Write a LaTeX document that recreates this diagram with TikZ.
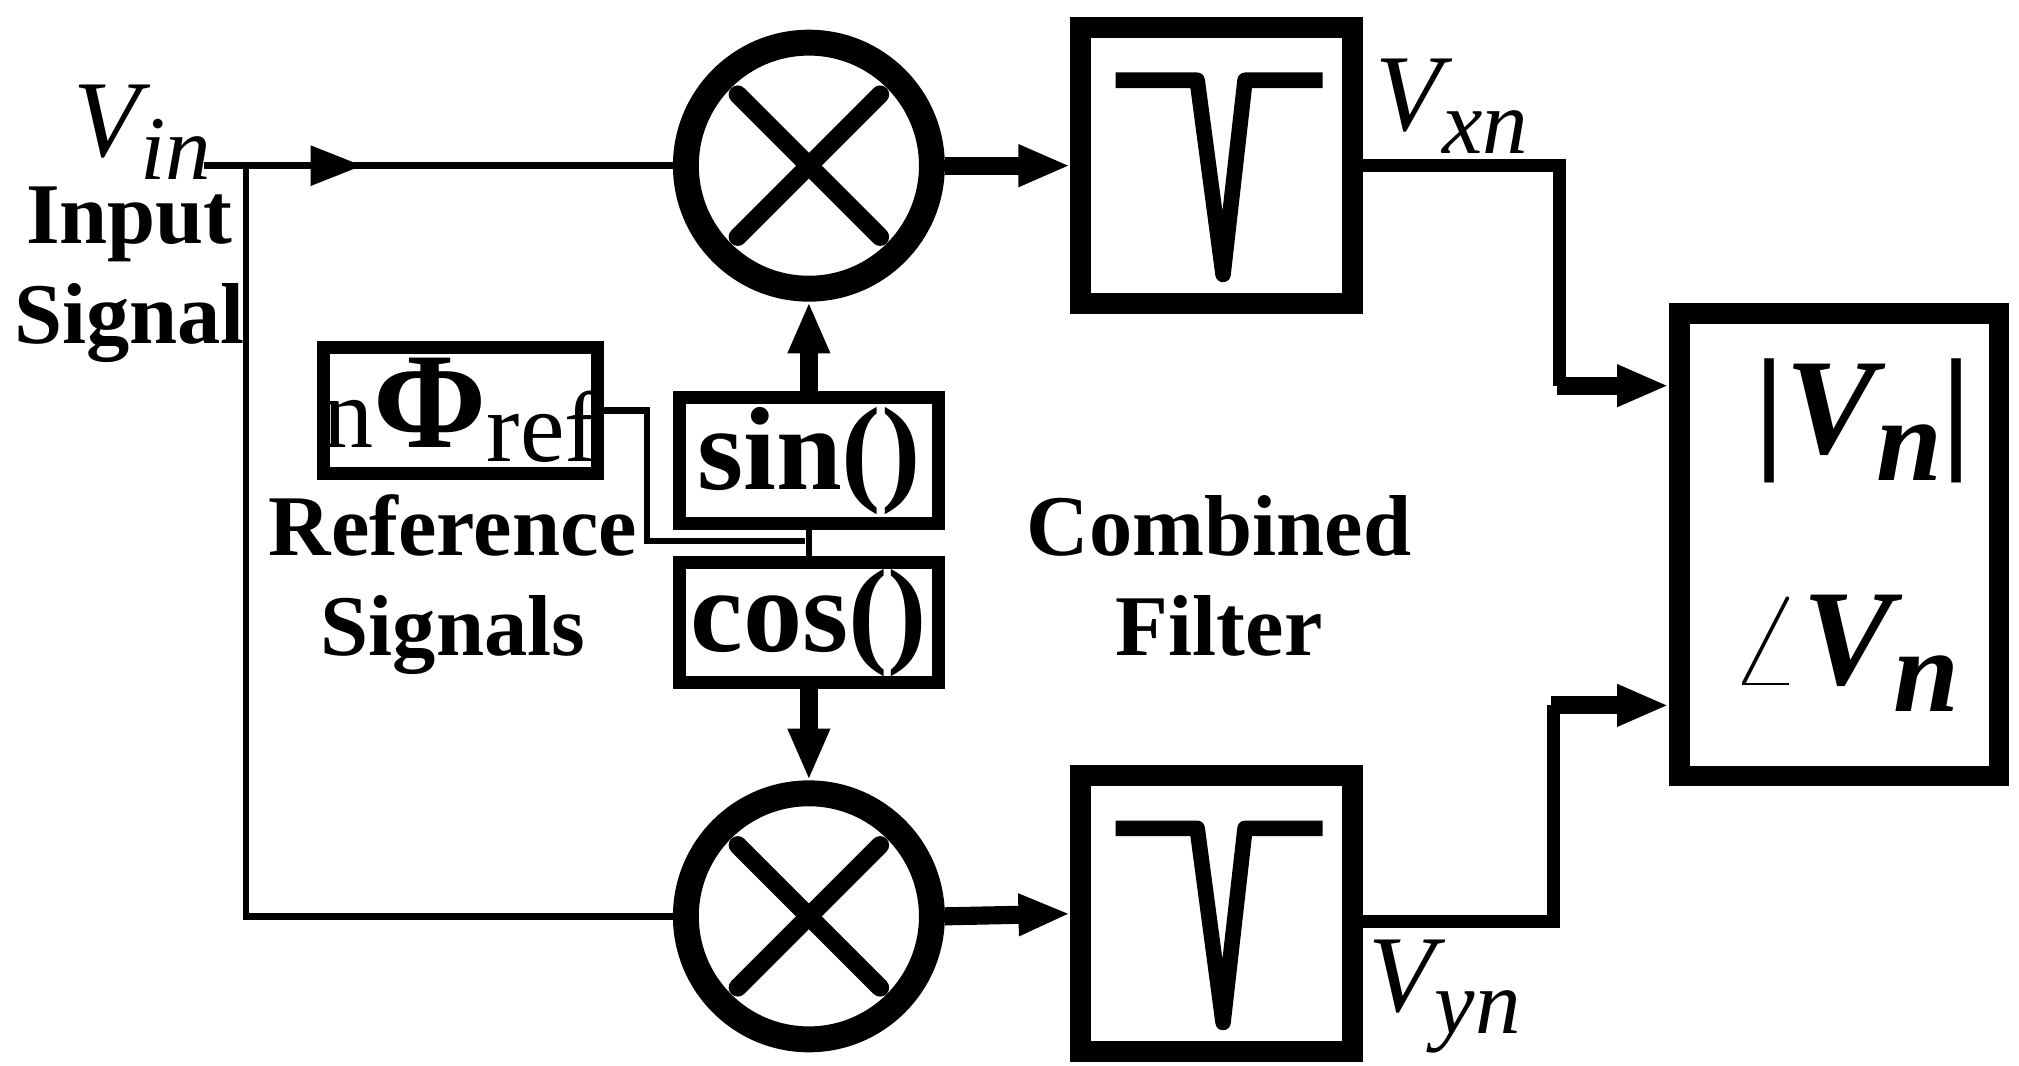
\documentclass[tikz,border=0pt]{standalone}
\usepackage{fontspec}
\setmainfont{Liberation Serif}
\usetikzlibrary{arrows.meta,shapes.geometric,calc}
\newcommand{\sbx}[2]{\lower#1\hbox{\fontsize{20}{22}\selectfont #2}}
\tikzset{
  mix/.style={ellipse, draw, line width=2mm, minimum width=1.9cm, minimum height=1.9cm},
  blk/.style={draw, line width=1.6mm, inner sep=0pt},
  fbox/.style={draw, line width=1mm, inner sep=0pt},
  lbl/.style={font=\fontsize{19}{22}\selectfont\bfseries, align=center},
  vlab/.style={font=\fontsize{24}{26}\selectfont\itshape, inner sep=0pt},
  sig/.style={line width=0.5mm},
  bus/.style={line width=1.4mm, -{Triangle[length=4mm,width=3mm]}},
}
\begin{document}
\begin{tikzpicture}[x=0.01cm, y=-0.01cm]
    \useasboundingbox (0,0) rectangle (1560,823);
    % mixers
    \node[mix] (mx) at (625,128) {};
    \node[mix] (my) at (625,708) {};
    \foreach \m in {mx,my}{
        \draw[line width=1.4mm, line cap=round] ($(\m)+(-55,-55)$) -- ($(\m)+(55,55)$);
        \draw[line width=1.4mm, line cap=round] ($(\m)+(-55,55)$) -- ($(\m)+(55,-55)$);
    }
    % filters
    \node[blk, minimum width=2.1cm, minimum height=2.13cm] (fx) at (940,128) {};
    \node[blk, minimum width=2.1cm, minimum height=2.13cm] (fy) at (940,706) {};
    \foreach \f in {fx,fy}{
        \draw[line width=1.2mm, line join=round] ($(\f)+(-78,-66)$) -- ($(\f)+(-15,-66)$)
            -- ($(\f)+(5,84)$) -- ($(\f)+(22,-66)$) -- ($(\f)+(82,-66)$);
    }
    % output block
    \node[blk, minimum width=2.47cm, minimum height=3.57cm] (out) at (1421,421) {};
    \node[font=\fontsize{30}{34}\selectfont\bfseries\itshape] at (1440,325)
        {|V\lower6pt\hbox{\fontsize{26}{28}\selectfont n}|};
    \node[font=\fontsize{30}{34}\selectfont\bfseries\itshape] at (1425,505)
        {$\angle$V\lower6pt\hbox{\fontsize{26}{28}\selectfont n}};
    % reference
    \node[fbox, minimum width=1.88cm, minimum height=0.97cm] (ph) at (356,317)
        {\fontsize{22}{24}\selectfont n{\fontsize{30}{30}\selectfont\bfseries Φ}\lower3pt\hbox{ref}};
    \node[fbox, minimum width=2cm, minimum height=0.97cm] (sn) at (625,356)
        {\fontsize{26}{28}\selectfont\bfseries sin()};
    \node[fbox, minimum width=2cm, minimum height=0.93cm] (cs) at (625,481)
        {\fontsize{26}{28}\selectfont\bfseries cos()};
    \coordinate (j) at (622,418);
    \draw[sig] (ph.east) -- (500,317) -- (500,418) -- (j);
    \draw[sig] (sn.south) -- (cs.north);
    \draw[bus] (sn.north) -- (mx.south);
    \draw[bus] (cs.south) -- (my.north);
    % input
    \coordinate (vin) at (158,128);
    \coordinate (br) at (190,128);
    \draw[sig] (vin) -- (mx.west);
    \draw[sig, -{Triangle[length=4mm,width=3mm]}] (vin) -- (280,128);
    \draw[sig] (br) -- (190,708) -- (my.west);
    \node[vlab] at (110,102) {V\sbx{5pt}{in}};
    \node[lbl] at (100,212) {Input\\Signal};
    % filter path
    \draw[bus] (mx.east) -- (fx.west);
    \draw[bus] (my.east) -- (fy.west);
    \draw[sig, line width=1mm] (fx.east) -- (1205,128) -- (1205,298);
    \draw[bus] (1203,298) -- (out.west |- 0,298);
    \draw[sig, line width=1mm] (fy.east |- 0,712) -- (1200,712) -- (1200,545);
    \draw[bus] (1198,545) -- (out.west |- 0,545);
    \node[vlab] at (1122,82) {V\sbx{5pt}{xn}};
    \node[vlab] at (1116,770) {V\sbx{5pt}{yn}};
    \node[lbl] at (350,452) {Reference\\Signals};
    \node[lbl] at (942,445) {Combined\\Filter};
\end{tikzpicture}
\end{document}
